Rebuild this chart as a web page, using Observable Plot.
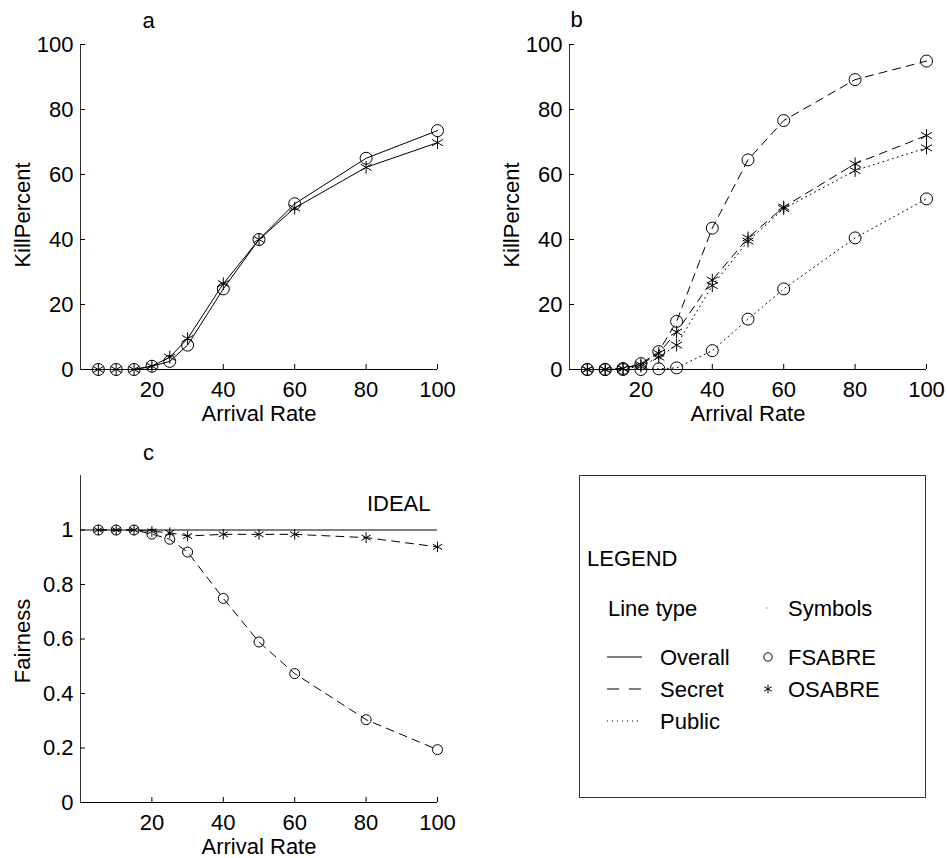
<!DOCTYPE html>
<html><head><meta charset="utf-8">
<script src="https://cdn.jsdelivr.net/npm/d3@7"></script>
<script src="https://cdn.jsdelivr.net/npm/@observablehq/plot@0.6"></script>
<style>
body{margin:0;background:#fff;}
#root{position:relative;width:947px;height:858px;font-family:"Liberation Sans",Arial,Helvetica,sans-serif;}
#root > *{position:absolute;}
</style></head><body><div id="root"></div>
<script>
// ---- data ----
const rates = [5, 10, 15, 20, 25, 30, 40, 50, 60, 80, 100];
const xTicks = [20, 40, 60, 80, 100];
const killTicks = [0, 20, 40, 60, 80, 100];
const fairTicks = [0, 0.2, 0.4, 0.6, 0.8, 1];

// panel a: overall kill percent
const aFsabreOverall = [0, 0, 0, 1, 2.5, 7.5, 24.8, 40, 51, 65, 73.5];
const aOsabreOverall = [0, 0, 0, 1, 3.8, 9.5, 26.4, 40, 49.7, 62.2, 69.8];
// panel b: secret / public kill percent
const bFsabreSecret = [0, 0, 0.3, 1.8, 5.5, 14.8, 43.5, 64.5, 76.6, 89.2, 94.9];
const bOsabreSecret = [0, 0, 0.3, 1.5, 5, 11.5, 27.5, 40.5, 50, 63.3, 72];
const bOsabrePublic = [0, 0, 0.2, 1, 3.8, 7.5, 25.8, 39.5, 49.5, 61.2, 68.2];
const bFsabrePublic = [0, 0, 0, 0, 0.2, 0.5, 5.8, 15.5, 24.8, 40.5, 52.5];
// panel c: fairness
const cFsabreSecret = [1, 1, 1, 0.985, 0.966, 0.919, 0.749, 0.589, 0.473, 0.304, 0.194];
const cOsabreSecret = [1, 1, 1, 0.995, 0.99, 0.978, 0.984, 0.984, 0.984, 0.972, 0.938];
const idealValue = [1];

const legendTitle = "LEGEND";
const lineTypeHeader = "Line type";
const symbolHeader = "Symbols";
const lineTypes = ["Overall", "Secret", "Public"];
const symbolNames = ["FSABRE", "OSABRE"];

const dash = {Overall: null, Secret: "8,6", Public: "1,4"};
const symbolOf = {FSABRE: "circle", OSABRE: "asterisk"};
const FONT = "Liberation Sans, Arial, Helvetica, sans-serif";
const fmt = d => String(+d.toFixed(6));

function panel({series, yDomain, yTicks, yLabel, title, titleDx, titleDy, labelDy, height, marginBottom, r, extra = []}) {
  const marks = [
    Plot.ruleY([yDomain[0]], {stroke: "#000", strokeWidth: 1}),
    Plot.ruleX([0], {stroke: "#333", strokeWidth: 1}),
    Plot.axisX(xTicks, {tickSize: 0, tickPadding: 12, label: null, fill: "#000", tickFormat: fmt}),
    Plot.axisX(xTicks, {tickSize: -5, fill: "none", stroke: "#000", label: null}),
    Plot.axisY(yTicks, {tickSize: 0, tickPadding: 7, label: null, fill: "#000", tickFormat: fmt}),
    Plot.axisY(yTicks, {tickSize: -5, fill: "none", stroke: "#000", label: null}),
    Plot.text([yLabel], {frameAnchor: "left", textAnchor: "middle", lineAnchor: "middle", rotate: -90, dx: -58, dy: labelDy, fill: "#000"}),
    Plot.text(["Arrival Rate"], {frameAnchor: "bottom", textAnchor: "middle", lineAnchor: "middle", dy: 44, fill: "#000"}),
    Plot.text([title], {frameAnchor: "top-left", textAnchor: "middle", lineAnchor: "middle", dx: titleDx, dy: titleDy, fill: "#000"}),
    ...extra
  ];
  for (const s of series) {
    const data = rates.map((x, i) => ({x, y: s.values[i]}));
    marks.push(Plot.line(data, {x: "x", y: "y", stroke: "#000", strokeWidth: 1, strokeDasharray: dash[s.type]}));
  }
  for (const s of series) {
    const data = rates.map((x, i) => ({x, y: s.values[i]}));
    marks.push(Plot.dot(data, {x: "x", y: "y", r, symbol: symbolOf[s.sym], stroke: "#000", strokeWidth: 1, fill: "none"}));
  }
  return Plot.plot({
    width: 470, height,
    marginLeft: 80, marginRight: 33, marginTop: 44, marginBottom,
    x: {domain: [0, 100]},
    y: {domain: yDomain},
    style: {fontSize: "22px", fontFamily: FONT, background: "transparent", overflow: "visible", color: "#000"},
    marks
  });
}

const root = document.getElementById("root");

const pa = panel({
  series: [
    {values: aFsabreOverall, type: "Overall", sym: "FSABRE"},
    {values: aOsabreOverall, type: "Overall", sym: "OSABRE"}
  ],
  yDomain: [0, 100], yTicks: killTicks, yLabel: "KillPercent", title: "a",
  titleDx: 68, titleDy: -24, labelDy: 8, height: 430, marginBottom: 61, r: 6
});
pa.style.left = "0px"; pa.style.top = "0px";
root.appendChild(pa);

const pb = panel({
  series: [
    {values: bFsabreSecret, type: "Secret", sym: "FSABRE"},
    {values: bOsabreSecret, type: "Secret", sym: "OSABRE"},
    {values: bOsabrePublic, type: "Public", sym: "OSABRE"},
    {values: bFsabrePublic, type: "Public", sym: "FSABRE"}
  ],
  yDomain: [0, 100], yTicks: killTicks, yLabel: "KillPercent", title: "b",
  titleDx: 7, titleDy: -25, labelDy: 8, height: 430, marginBottom: 61, r: 6
});
pb.style.left = "489px"; pb.style.top = "0px";
root.appendChild(pb);

const pc = panel({
  series: [
    {values: cFsabreSecret, type: "Secret", sym: "FSABRE"},
    {values: cOsabreSecret, type: "Secret", sym: "OSABRE"}
  ],
  yDomain: [0, 1.2], yTicks: fairTicks, yLabel: "Fairness", title: "c",
  titleDx: 68, titleDy: -23, labelDy: 2, height: 427, marginBottom: 56, r: 5,
  extra: [
    Plot.ruleY(idealValue, {stroke: "#000", strokeWidth: 1}),
    Plot.text(["IDEAL"], {frameAnchor: "top-right", textAnchor: "end", lineAnchor: "middle", dx: -7, dy: 28, fill: "#000"})
  ]
});
pc.style.left = "0px"; pc.style.top = "431px";
root.appendChild(pc);

// ---- legend box ----
const lg = d3.create("svg").attr("width", 347).attr("height", 323)
  .style("left", "579px").style("top", "475px")
  .style("font-family", FONT).style("font-size", "22px");
lg.append("rect").attr("x", 0.5).attr("y", 0.5).attr("width", 346).attr("height", 322)
  .attr("fill", "#fff").attr("stroke", "#333").attr("stroke-width", 1);
const txt = (x, y, s) => lg.append("text").attr("x", x).attr("y", y).attr("dy", "0.35em").attr("fill", "#000").text(s);
txt(8, 83, legendTitle);
txt(29, 133, lineTypeHeader);
lg.append("circle").attr("cx", 188).attr("cy", 133).attr("r", 0.7).attr("fill", "#888");
txt(209, 133, symbolHeader);
lineTypes.forEach((t, i) => {
  const y = 182 + i * 32;
  lg.append("line").attr("x1", 28).attr("x2", 63).attr("y1", y).attr("y2", y)
    .attr("stroke", "#000").attr("stroke-width", 1).attr("stroke-dasharray", t === "Secret" ? "12,10" : dash[t]);
  txt(81, y, t);
});
symbolNames.forEach((s, i) => {
  const y = 182 + i * 32;
  lg.append("path").attr("transform", `translate(189,${y})`)
    .attr("d", d3.symbol(symbolOf[s] === "circle" ? d3.symbolCircle : d3.symbolAsterisk, 55)())
    .attr("fill", "none").attr("stroke", "#000").attr("stroke-width", 1);
  txt(209, y, s);
});
root.appendChild(lg.node());
</script></body></html>
